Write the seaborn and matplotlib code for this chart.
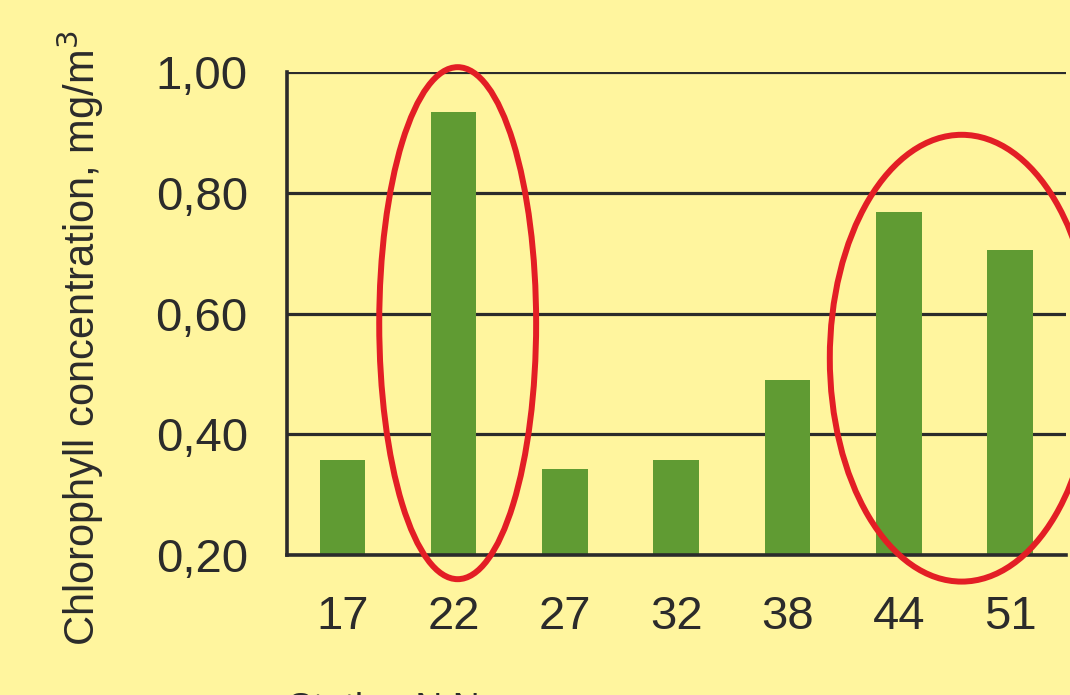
import matplotlib
matplotlib.use("Agg")
import matplotlib.pyplot as plt
from matplotlib.patches import Ellipse
from matplotlib.ticker import FuncFormatter
import seaborn as sns
import pandas as pd

stations = ["17", "22", "27", "32", "38", "44", "51"]
chlorophyll = [0.357, 0.934, 0.342, 0.357, 0.490, 0.768, 0.705]
y_ticks = [0.20, 0.40, 0.60, 0.80, 1.00]

BG = "#FFF59E"
GREEN = "#609B33"
RED = "#E31E25"
TXT = "#2B2B2B"

sns.set_theme(style="white")
plt.rcParams["font.family"] = ["Liberation Sans", "DejaVu Sans"]

df = pd.DataFrame({"station": stations, "value": chlorophyll})

fig = plt.figure(figsize=(10.7, 6.95), dpi=100, facecolor=BG)
ax = fig.add_axes([0.268, 0.2014, 0.728, 0.6950])
ax.set_facecolor(BG)

sns.barplot(data=df, x="station", y="value", color=GREEN, width=0.41,
            saturation=1, ax=ax, zorder=3, edgecolor=GREEN, linewidth=0)

ax.set_ylim(0.2, 1.0)
ax.set_xlim(-0.5, 6.5)
ax.set_yticks(y_ticks)
ax.yaxis.set_major_formatter(FuncFormatter(lambda v, p: f"{v:.2f}".replace(".", ",")))
ax.grid(axis="y", color=TXT, linewidth=2.3, zorder=1)
ax.grid(axis="x", visible=False)
ax.set_axisbelow(True)

for s in ["top", "right"]:
    ax.spines[s].set_visible(False)
for s in ["left", "bottom"]:
    ax.spines[s].set_color(TXT)
    ax.spines[s].set_linewidth(2.6)
    ax.spines[s].set_zorder(4)

ax.tick_params(axis="y", length=0, pad=28, labelsize=34, labelcolor=TXT)
ax.tick_params(axis="x", length=0, pad=29, labelsize=34, labelcolor=TXT)
ax.set_xlabel("")
ax.set_ylabel("")

# highlight ellipses
e1 = Ellipse((1.036, 0.584), 1.41, 0.848, fill=False, edgecolor=RED,
             linewidth=4.3, clip_on=False, zorder=5)
e2 = Ellipse((5.565, 0.526), 2.37, 0.740, fill=False, edgecolor=RED,
             linewidth=4.3, clip_on=False, zorder=5)
ax.add_patch(e1)
ax.add_patch(e2)

fig.text(80 / 1070, 1 - 338 / 695, "Chlorophyll concentration, mg/m$^3$",
         rotation=90, ha="center", va="center", fontsize=30, color=TXT)
fig.text(288 / 1070, (695 - 720) / 695, "Station N.N.", ha="left",
         va="baseline", fontsize=27, color=TXT)

fig.savefig("out.png", dpi=100, facecolor=BG)
